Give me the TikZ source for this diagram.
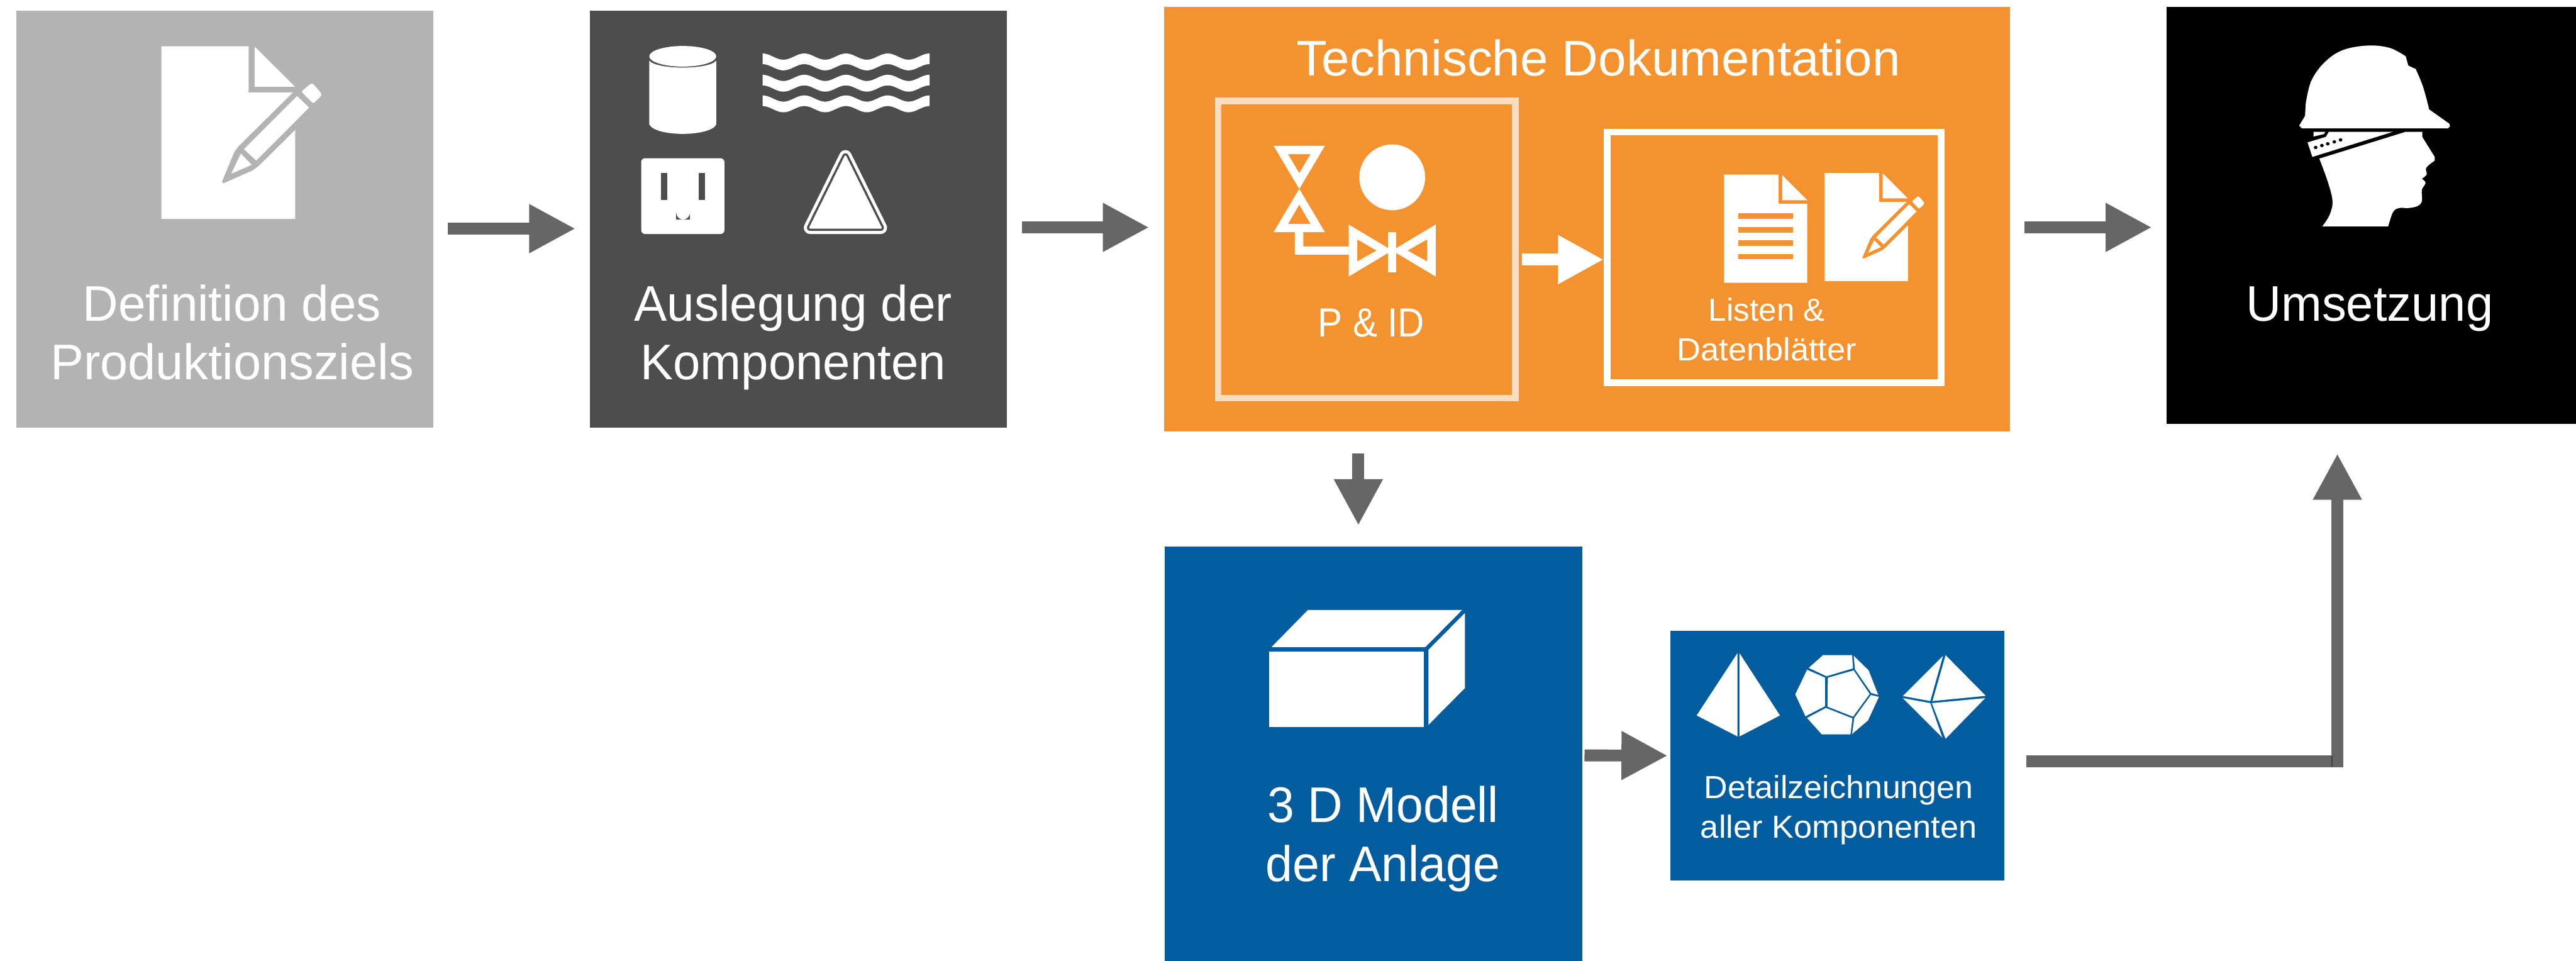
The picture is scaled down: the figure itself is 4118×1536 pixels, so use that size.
\documentclass[tikz,border=0pt]{standalone}
\usepackage{fontspec}
\usepackage{graphicx}
\setmainfont{Liberation Sans}
\usetikzlibrary{arrows.meta}
\definecolor{cgrey}{HTML}{B3B3B3}
\definecolor{cdark}{HTML}{4D4D4D}
\definecolor{corange}{HTML}{F4922F}
\definecolor{cblue}{HTML}{035C9E}
\definecolor{cpeach}{HTML}{FBDCBD}
\definecolor{carrow}{HTML}{666666}
\newcommand\fitw[2]{\resizebox{#1pt}{\height}{#2}}
\tikzset{
  boxn/.style={rectangle,inner sep=0pt,outer sep=0pt,draw=none},
  framen/.style={rectangle,inner sep=0pt,outer sep=0pt,line width=10.7pt,fill=none},
  lblbig/.style={text=white,inner sep=0pt,outer sep=0pt,anchor=base,align=center,font=\fontsize{80pt}{94pt}\selectfont},
  lblmid/.style={text=white,inner sep=0pt,outer sep=0pt,anchor=base,align=center,font=\fontsize{65pt}{78pt}\selectfont},
  lblsmall/.style={text=white,inner sep=0pt,outer sep=0pt,anchor=base,align=center,font=\fontsize{51pt}{64pt}\selectfont},
  conn/.style={draw=carrow,line width=19pt,-{Triangle[length=74pt,width=73pt,fill=carrow]}},
  connw/.style={draw=white,line width=19pt,-{Triangle[length=73pt,width=73pt,fill=white]}},
}
\newcommand\pencildoc{%
  \fill[white,even odd rule] (258,74) -- (397.6,74) -- (397.6,148) -- (468,148) -- (381,234) -- (374.5,243) -- (354.5,291) -- (357.5,293) -- (403,273) -- (413,266) -- (472,207.6) -- (472,350) -- (258,350) -- cycle;
  \fill[white] (407,74.5) -- (407,138.5) -- (471.5,138.5) -- cycle;
  \fill[white] (475,153.6) -- (494,172) -- (409.6,256.7) -- (390,238.4) -- cycle;
  \fill[white] (385,245.5) -- (402.4,263.4) -- (369.7,277.7) -- cycle;
  \fill[white,rounded corners=2pt] (481.8,146.4) -- (497,133.5) -- (500,133.5) -- (514,149.6) -- (513,154) -- (500.6,165.6) -- cycle;
}
\begin{document}
\begin{tikzpicture}[x=1pt,y=-1pt]
\useasboundingbox (0,0) rectangle (4118,1536);
\fill[white] (0,0) rectangle (4118,1536);

% boxes
\node[boxn,fill=cgrey,minimum width=667pt,minimum height=667pt] (b1) at (359.5,350.5) {};
\node[boxn,fill=cdark,minimum width=667pt,minimum height=667pt] (b2) at (1276.5,350.5) {};
\node[boxn,fill=corange,minimum width=1352pt,minimum height=679pt] (b3) at (2537,350.5) {};
\node[boxn,fill=black,minimum width=655pt,minimum height=667pt] (b4) at (3790.5,344.5) {};
\node[boxn,fill=cblue,minimum width=667pt,minimum height=662pt] (d3) at (2195.5,1205) {};
\node[boxn,fill=cblue,minimum width=534pt,minimum height=400pt] (d4) at (2937,1208) {};
\node[framen,draw=cpeach,minimum width=475pt,minimum height=475pt] (pid) at (2185,399) {};
\node[framen,draw=white,minimum width=533.5pt,minimum height=400.5pt] (lst) at (2836,411.5) {};

% labels (the base anchor of a two-line node is the baseline of its last line)
\node[lblbig] (t1) at (371,607) {\fitw{477}{Definition des}\\\fitw{581}{Produktionsziels}};
\node[lblbig] (t2) at (1268,607) {\fitw{508}{Auslegung der}\\\fitw{488}{Komponenten}};
\node[lblbig] (t3) at (2555.5,121) {\fitw{965}{Technische Dokumentation}};
\node[lblmid] (t4) at (2192,538) {\fitw{170}{P \& ID}};
\node[lblsmall] (t5) at (2824.5,577) {\fitw{186}{Listen \&}\\\fitw{287}{Datenblätter}};
\node[lblbig] (t6) at (3788,513) {\fitw{395}{Umsetzung}};
\node[lblbig] (t7) at (2211,1409) {\fitw{370}{3 D Modell}\\\fitw{375}{der Anlage}};
\node[lblsmall] (t8) at (2939.5,1340) {\fitw{430}{Detailzeichnungen}\\\fitw{442}{aller Komponenten}};

% connectors
\draw[conn] ([shift={(23pt,-15pt)}]b1.east) -- ([shift={(-23pt,-15pt)}]b2.west);
\draw[conn] ([shift={(24pt,-13pt)}]b2.east) -- ([shift={(-24pt,-13pt)}]b3.west);
\draw[conn] ([shift={(23pt,-13pt)}]b3.east) -- ([shift={(-23pt,-19pt)}]b4.west);
\draw[conn] ([shift={(-365.5pt,-34.5pt)}]b3.south) -- ([shift={(-24pt,34pt)}]d3.north);
\draw[conn] ([shift={(4pt,-2.5pt)}]d3.east) -- ([shift={(-4pt,0pt)}]d4.west);
\draw[connw] ([shift={(10.5pt,-16pt)}]pid.east) -- ([shift={(-5.5pt,-3.5pt)}]lst.west);
\draw[conn] ([shift={(35pt,-9pt)}]d4.east) -| ([shift={(-54pt,-47pt)}]b4.south);
\fill[black!75] (3727.3,1208) rectangle (3728.5,1226);

% pencil document, grey box
\pencildoc

% box 2 icons
\fill[white] (1091.5,90) ellipse [x radius=53.5,y radius=16.5];
\fill[white] (1038,97) .. controls (1050,111.7) and (1133,111.7) .. (1145,97) -- (1145,199) .. controls (1135,219) and (1048,219) .. (1038,199) -- cycle;
\foreach \yc in {99,133,166}{
  \fill[white] plot[domain=0:267,samples=80] ({1219+\x},{\yc-8.5-5*cos(5.397*\x)}) -- plot[domain=267:0,samples=80] ({1219+\x},{\yc+8.5-5*cos(5.397*\x)}) -- cycle;
}
\fill[white,rounded corners=6pt] (1025,253) rectangle (1158,374);
\fill[cdark] (1057,276) rectangle (1067,320);
\fill[cdark] (1117,276) rectangle (1127,320);
\fill[cdark] (1081,351) -- (1081,340) arc[start angle=180,end angle=0,radius=11] -- (1103,351) -- cycle;
\draw[white,line width=20pt,line join=round] (1351.5,250) -- (1295,364) -- (1408,364) -- cycle;
\draw[cdark,line width=10pt,line join=round] (1351.5,250) -- (1295,364) -- (1408,364) -- cycle;
\draw[white,fill=white,line width=3pt,line join=round] (1351.5,250) -- (1295,364) -- (1408,364) -- cycle;

% P&ID icon
\fill[white,even odd rule] (2036,233) -- (2118,233) -- (2077,302) -- cycle (2059,246.4) -- (2095,246.4) -- (2077,277) -- cycle;
\fill[white,even odd rule] (2036,371) -- (2118,371) -- (2077,302) -- cycle (2059,358) -- (2095,358) -- (2077,327) -- cycle;
\fill[white] (2070,371) -- (2083.5,371) -- (2083.5,394) -- (2156,394) -- (2156,407) -- (2070,407) -- cycle;
\fill[white,even odd rule] (2156,359) -- (2156,442) -- (2225.6,400.5) -- cycle (2169.6,382.6) -- (2169.6,418) -- (2200.7,400.5) -- cycle;
\fill[white,even odd rule] (2295,359) -- (2295,442) -- (2225.6,400.5) -- cycle (2281.6,382.6) -- (2281.6,418) -- (2250,400.5) -- cycle;
\fill[white] (2219,370.5) rectangle (2232,435);
\fill[white] (2225.6,283.5) circle [radius=52.6];

% list document
\fill[white] (2756,279) -- (2843,279) -- (2843,325.7) -- (2889,325.7) -- (2889,452) -- (2756,452) -- cycle;
\fill[white] (2849,280) -- (2849,320) -- (2889,320) -- cycle;
\foreach \ya/\yb in {341.3/350,362.7/371.7,384.3/393,405.7/414.7}{
  \fill[corange] (2779,\ya) rectangle (2866,\yb);
}
% pencil document, orange box
\begin{scope}[shift={(2756.5,230.45)},xscale=.622,yscale=.625]
\pencildoc
\end{scope}

% head with helmet
\begin{scope}[shift={(3200,0)},x=.5855pt,y=-.4464pt]
\fill[white] (812,450) -- (828,415) -- plot[smooth,tension=.6] coordinates {(830,370) (845,290) (880,225) (930,180) (1000,163) (1060,172) (1103,202)} -- (1110,235) -- (1130,247) -- plot[smooth,tension=.6] coordinates {(1130,247) (1150,310) (1167,392)} -- (1222,443) -- (1224,452) -- (1218,460) -- (820,460) -- cycle;
\fill[white] (1103,472) -- (1148,472) -- (1148,490) -- (1182,562) -- plot[smooth,tension=.6] coordinates {(1182,575) (1165,592) (1158,605) (1160,625) (1147,640)} -- plot[smooth,tension=.6] coordinates {(1147,640) (1157,655) (1147,680) (1147,720) (1135,738) (1110,745) (1085,745) (1068,760) (1055,811)} -- (875,811) -- plot[smooth,tension=.6] coordinates {(875,811) (895,770) (903,720) (890,650) (867,568)} -- cycle;
\fill[white] (835,510) -- (885,490) -- (893,472) -- (1068,472) -- (848,562) -- cycle;
\fill[white] (851,472) -- (883,472) -- (880,480) -- (851,489) -- cycle;
\foreach \px/\py in {857/528,874/521,890/515,908/508,925/501}{
  \fill[black] (\px,\py) ellipse [x radius=5,y radius=6];
}
\end{scope}

% cuboid
\begin{scope}[shift={(1850,700)},x=.5102pt,y=-.5332pt]
\fill[white] (472,516) -- (955,516) -- (840,627) -- (358,627) -- cycle;
\fill[white] (351,640) rectangle (835,867);
\fill[white] (964,525) -- (964,750) -- (850,860) -- (850,635) -- cycle;
\end{scope}

% polyhedra
\begin{scope}[shift={(2500,980)},x=.5102pt,y=-.3333pt]
\fill[white] (544,192) -- (544,592) -- (416,491) -- cycle;
\fill[white] (550,192) -- (550,592) -- (677,491) -- cycle;
\fill[white] (812,202) -- (903,202) -- (906,265) -- (823,303) -- (767,263) -- cycle;
\fill[white] (908,205) -- (955,275) -- (985,393) -- (963,383) -- (912,270) -- cycle;
\fill[white] (827,310) -- (908,275) -- (958,388) -- (906,497) -- (826,449) -- cycle;
\fill[white] (762,272) -- (818,309) -- (818,447) -- (757,495) -- (725,390) -- cycle;
\fill[white] (821,455) -- (904,505) -- (898,582) -- (808,582) -- (762,503) -- cycle;
\fill[white] (962,393) -- (987,402) -- (953,515) -- (903,580) -- (910,503) -- cycle;
\fill[white] (1188,205) -- (1148,422) -- (1062,398) -- cycle;
\fill[white] (1196,202) -- (1322,397) -- (1155,422) -- cycle;
\fill[white] (1062,408) -- (1148,432) -- (1186,598) -- cycle;
\fill[white] (1153,432) -- (1320,408) -- (1196,603) -- cycle;
\end{scope}
\end{tikzpicture}
\end{document}
